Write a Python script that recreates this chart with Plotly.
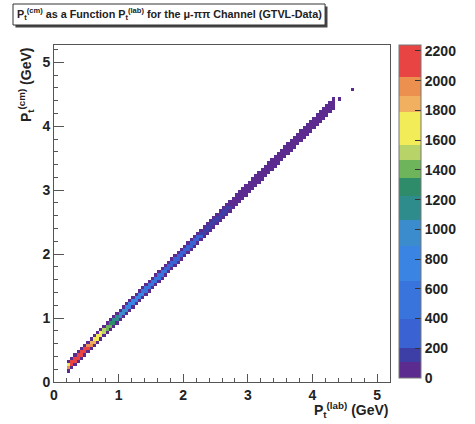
import numpy as np
import plotly.graph_objects as go

# ---------------- data ----------------
# bin centres of pt_lab along the diagonal band (GeV), 0.05 GeV bins
pt_lab = [0.225, 0.275, 0.325, 0.375, 0.425, 0.475, 0.525, 0.575, 0.625, 0.675,
          0.725, 0.775, 0.825, 0.875, 0.925, 0.975, 1.025, 1.075, 1.125, 1.175,
          1.225, 1.275, 1.325, 1.375, 1.425, 1.475, 1.525, 1.575, 1.625, 1.675,
          1.725, 1.775, 1.825, 1.875, 1.925, 1.975, 2.025, 2.075, 2.125, 2.175,
          2.225, 2.275, 2.325, 2.375, 2.425, 2.475, 2.525, 2.575, 2.625, 2.675,
          2.725, 2.775, 2.825, 2.875, 2.925, 2.975, 3.025, 3.075, 3.125, 3.175,
          3.225, 3.275, 3.325, 3.375, 3.425, 3.475, 3.525, 3.575, 3.625, 3.675,
          3.725, 3.775, 3.825, 3.875, 3.925, 3.975, 4.025, 4.075, 4.125, 4.175,
          4.225, 4.275, 4.325]
# counts in the bin with pt_cm == pt_lab
counts_center = [1900, 2200, 2220, 2200, 2180, 2150, 2080, 1950, 1850, 1750,
                 1680, 1560, 1450, 1350, 1250, 1150, 1050, 980, 900, 850,
                 800, 750, 700, 660, 620, 580, 545, 510, 480, 450,
                 420, 395, 370, 345, 325, 305, 285, 268, 252, 236,
                 222, 208, 195, 183, 171, 160, 150, 140, 131, 122,
                 114, 106, 99, 92, 86, 80, 75, 71, 67, 63,
                 59, 56, 52, 49, 46, 43, 40, 37, 35, 32,
                 30, 28, 26, 24, 22, 20, 18, 16, 14, 12,
                 10, 8, 5]
# counts one bin above the diagonal
counts_upper = [1700, 2100, 2150, 2120, 2100, 2060, 1980, 1870, 1780, 1690,
                1600, 1490, 1380, 1280, 1180, 1090, 1000, 930, 860, 810,
                760, 710, 660, 620, 585, 550, 515, 480, 450, 420,
                395, 370, 345, 322, 302, 284, 266, 250, 235, 220,
                207, 194, 182, 170, 159, 149, 140, 131, 122, 114,
                106, 99, 92, 86, 80, 75, 69, 65, 61, 57,
                54, 51, 48, 45, 42, 39, 37, 34, 32, 30,
                28, 26, 24, 22, 20, 18, 16, 14, 12, 10,
                8, 6, 3]
# counts in the outer edge bins of the band (one below, two above)
counts_edge = [90, 98, 96, 94, 92, 90, 88, 86, 84, 82,
               80, 78, 76, 74, 72, 70, 68, 66, 64, 62,
               60, 58, 56, 54, 52, 50, 48, 46, 44, 42,
               40, 39, 38, 37, 36, 35, 34, 33, 32, 31,
               30, 29, 28, 27, 26, 25, 24, 23, 22, 21,
               20, 19, 18, 17, 16, 15, 15, 14, 14, 13,
               13, 12, 12, 11, 11, 10, 10, 9, 9, 8,
               8, 7, 7, 6, 6, 5, 5, 4, 4, 3,
               3, 2, 1]
# isolated entries at the high end
iso_lab = [4.425, 4.625]
iso_cm = [4.425, 4.575]
iso_counts = [3, 3]

# ---------------- histogram grid ----------------
bw = 0.05
nb = 105
centers = np.round(np.arange(nb) * bw + bw / 2, 4)
z = [[None] * nb for _ in range(nb)]


def idx(v):
    return int(round((v - bw / 2) / bw))


for p, c, u, e in zip(pt_lab, counts_center, counts_upper, counts_edge):
    i = idx(p)
    z[i][i] = c
    z[i + 1][i] = u
    z[i + 2][i] = e
    z[i - 1][i] = e
for xl, yc, c in zip(iso_lab, iso_cm, iso_counts):
    z[idx(yc)][idx(xl)] = c

zmax = 2240.0
steps = [(0, 108, "#5b2b8f"), (108, 200, "#3d3fa6"), (200, 400, "#3a62d2"),
         (400, 650, "#3874dc"), (650, 890, "#3a84e4"), (890, 1060, "#3a8ccc"),
         (1060, 1225, "#2f8c8c"), (1225, 1346, "#2f8c6a"), (1346, 1467, "#6db45a"),
         (1467, 1568, "#b8d468"), (1568, 1790, "#f2ec58"), (1790, 1900, "#f0b060"),
         (1900, 2026, "#ec9050"), (2026, 2240, "#e84444")]
cscale = []
for a, b, col in steps:
    cscale.append([a / zmax, col])
    cscale.append([b / zmax, col])

FONT = "Liberation Sans"

fig = go.Figure()
fig.add_trace(go.Heatmap(
    x=centers, y=centers, z=z, zmin=0, zmax=zmax, colorscale=cscale,
    xgap=0, ygap=0, hoverongaps=False,
    colorbar=dict(
        x=1.026, xanchor="left", y=1, yanchor="top", len=333 / 337, lenmode="fraction",
        thickness=22, thicknessmode="pixels", outlinewidth=1, outlinecolor="#777777",
        tickmode="linear", tick0=0, dtick=200, ticks="inside", ticklen=6,
        tickcolor="#333333", tickfont=dict(family=FONT, size=14, color="#222222", weight="bold"),
        xpad=0, ypad=0,
    ),
))

axis_common = dict(
    showgrid=False, zeroline=False, showline=True, linecolor="#555555", linewidth=1,
    mirror=True, ticks="inside", tickcolor="#555555",
    tickfont=dict(family=FONT, size=14, color="#222222", weight="bold"),
    tickmode="linear", tick0=0, dtick=1,
    minor=dict(ticks="inside", dtick=0.2, tick0=0, ticklen=4, tickcolor="#555555", showgrid=False),
)
fig.update_xaxes(range=[0, 5.2], ticklen=8, **axis_common)
fig.update_yaxes(range=[0, 5.27], ticklen=10, **axis_common)

W, H = 475, 424
L, R, T, B = 54.3, 401.0, 45.0, 382.0
pw, ph = R - L, B - T


def px(x):
    return (x - L) / pw


def py(y):
    return (B - y) / ph


shapes = [
    dict(type="rect", xref="paper", yref="paper", x0=px(14.5), x1=px(336.5), y0=py(27.5), y1=py(6.5),
         fillcolor="#444444", line=dict(width=0), layer="above"),
    dict(type="rect", xref="paper", yref="paper", x0=px(12), x1=px(334), y0=py(25), y1=py(4),
         fillcolor="white", line=dict(width=1, color="#333333"), layer="above"),
]

title_txt = ("P<sub>t</sub><sup>(cm)</sup> as a Function P<sub>t</sub><sup>(lab)</sup> "
             "for the μ-ππ Channel (GTVL-Data)")
annotations = [
    dict(text="<b>" + title_txt + "</b>", xref="paper", yref="paper", x=px(173), y=py(14.5),
         xanchor="center", yanchor="middle", showarrow=False,
         font=dict(family=FONT, size=10.8, color="#222222")),
    dict(text="<b>P<sub>t</sub><sup>(cm)</sup> (GeV)</b>", xref="paper", yref="paper",
         x=px(25), y=py(45), xanchor="center", yanchor="top", textangle=-90, showarrow=False,
         font=dict(family=FONT, size=14, color="#222222")),
    dict(text="<b>P<sub>t</sub><sup>(lab)</sup> (GeV)</b>", xref="paper", yref="paper",
         x=px(402), y=py(410), xanchor="right", yanchor="middle", showarrow=False,
         font=dict(family=FONT, size=14, color="#222222")),
]

fig.update_layout(
    width=W, height=H, autosize=False,
    margin=dict(l=L, r=W - R, t=T, b=H - B, pad=0),
    paper_bgcolor="white", plot_bgcolor="white",
    shapes=shapes, annotations=annotations, showlegend=False,
)

fig.write_html("out.html")
